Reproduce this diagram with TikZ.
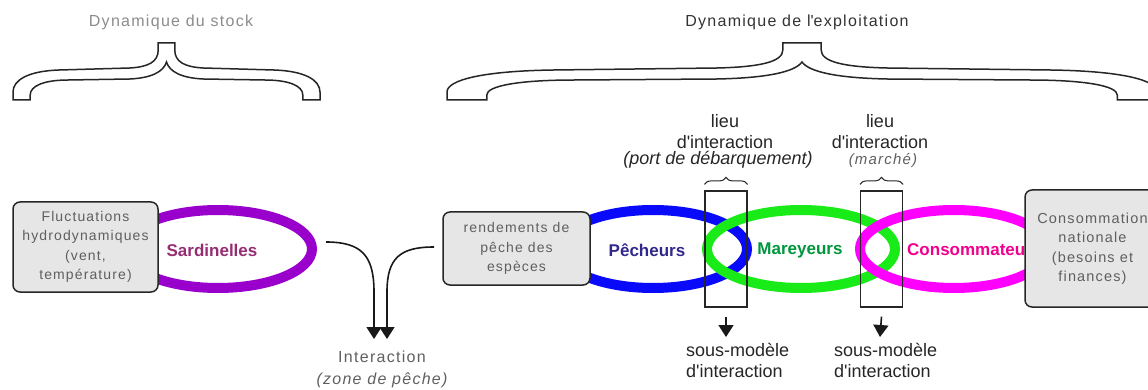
\documentclass[tikz,border=0pt]{standalone}
\usepackage{fontspec}
\setmainfont{Liberation Sans}
\newfontfamily\thinf[LetterSpace=8]{Liberation Sans}
\usetikzlibrary{shapes.geometric,arrows.meta,decorations.pathreplacing}
\definecolor{purp}{RGB}{153,0,204}
\definecolor{sardc}{RGB}{150,45,115}
\definecolor{bluec}{RGB}{10,10,250}
\definecolor{pechc}{RGB}{50,40,140}
\definecolor{greenc}{RGB}{25,235,25}
\definecolor{marc}{RGB}{0,150,60}
\definecolor{magc}{RGB}{255,0,255}
\definecolor{consc}{RGB}{240,0,140}
\definecolor{boxfill}{RGB}{230,230,230}
\definecolor{thintext}{RGB}{95,95,95}
\newcommand{\apo}{\textquotesingle}
\begin{document}
\begin{tikzpicture}[x=1pt,y=-1pt,
  ell/.style={ellipse, minimum width=188pt, minimum height=78pt, line width=10pt, inner sep=0pt},
  bold17/.style={font=\fontsize{17}{20}\selectfont\bfseries, inner sep=0pt},
  gbox/.style={draw=black!85, line width=1.5pt, fill=boxfill, rounded corners=7pt, align=center,
    text=thintext, inner sep=0pt, font=\thinf\fontsize{14}{19.5}\selectfont},
  irect/.style={draw=black!85, line width=1.2pt, minimum width=42pt, minimum height=116pt, inner sep=0pt},
  arr/.style={-{Triangle[width=15pt,length=12pt]}, line width=1.6pt, black!90},
  dk/.style={font=\fontsize{18}{21}\selectfont, text=black!85, align=center, inner sep=0pt},
  thinlbl/.style={font=\thinf\fontsize{16}{22}\selectfont, text=thintext, align=center, inner sep=0pt},
  smallbrace/.style={decorate, decoration={brace, amplitude=7pt}, line width=1pt, black!85},
  bigbrace/.style={draw=black!85, line width=1.5pt, fill=white}
]
\useasboundingbox (0,0) rectangle (1148,390);
\clip (0,0) rectangle (1148,390);

% top braces
\node[thinlbl, text=black!45] (tstock) at (171,22) {Dynamique du stock};
\node[thinlbl, text=black!80] (texpl) at (797,22) {Dynamique de l\apo exploitation};
\begin{scope}[shift={(13,0)}, xscale=307]
\path[bigbrace] (0.473,43) -- (0.473,50) .. controls (0.473,62) and (0.44,67) .. (0.38,68) -- (0.15,70)
 .. controls (0.05,71) and (0,80) .. (0,92) -- (0,100) -- (0.056,100) -- (0.056,95)
 .. controls (0.056,86) and (0.1,80) .. (0.18,80) -- (0.38,79)
 .. controls (0.45,78) and (0.49,72) .. (0.5,62)
 .. controls (0.51,72) and (0.55,78) .. (0.62,79) -- (0.82,80)
 .. controls (0.9,80) and (0.944,86) .. (0.944,95) -- (0.944,100) -- (1,100) -- (1,92)
 .. controls (1,80) and (0.95,71) .. (0.85,70) -- (0.62,68)
 .. controls (0.56,67) and (0.527,62) .. (0.527,50) -- (0.527,43) -- cycle;
\end{scope}
\begin{scope}[shift={(447,0)}, xscale=710]
\path[bigbrace] (0.473,43) -- (0.473,50) .. controls (0.473,62) and (0.44,67) .. (0.38,68) -- (0.15,70)
 .. controls (0.05,71) and (0,80) .. (0,92) -- (0,100) -- (0.056,100) -- (0.056,95)
 .. controls (0.056,86) and (0.1,80) .. (0.18,80) -- (0.38,79)
 .. controls (0.45,78) and (0.49,72) .. (0.5,62)
 .. controls (0.51,72) and (0.55,78) .. (0.62,79) -- (0.82,80)
 .. controls (0.9,80) and (0.944,86) .. (0.944,95) -- (0.944,100) -- (1,100) -- (1,92)
 .. controls (1,80) and (0.95,71) .. (0.85,70) -- (0.62,68)
 .. controls (0.56,67) and (0.527,62) .. (0.527,50) -- (0.527,43) -- cycle;
\end{scope}

% ellipses
\node[ell, draw=purp] (sard) at (218,249) {};
\node[ell, draw=bluec] (pech) at (653,249) {};
\node[ell, draw=greenc] (mar) at (801,249) {};
\node[ell, draw=magc] (cons) at (954,249) {};

% ellipse labels
\node[bold17, text=sardc] (sardt) at (212,250) {Sardinelles};
\node[bold17, text=pechc] (pecht) at (647,250) {Pêcheurs};
\node[bold17, text=marc] (mart) at (800,250) {Mareyeurs};
\node[bold17, text=consc, anchor=west] (const) at (907,250) {Consommateurs};

% boxes
\node[gbox, minimum width=145pt, minimum height=90pt] (fluct) at (85.5,247) {Fluctuations\\hydrodynamiques\\(vent,\\température)};
\node[gbox, minimum width=147pt, minimum height=73pt] (rend) at (516.5,248.5) {rendements de\\pêche des\\espèces};
\node[gbox, minimum width=135pt, minimum height=117pt, font=\thinf\fontsize{14.5}{19.5}\selectfont] (consn) at (1092.5,248.5) {Consommation\\nationale\\(besoins et\\finances)};

% interaction rectangles
\node[irect] (r1) at (726,249) {};
\node[irect] (r2) at (881.5,249) {};
\draw[smallbrace] ([yshift=6pt]r1.north west) -- ([yshift=6pt]r1.north east);
\draw[smallbrace] ([yshift=6pt]r2.north west) -- ([yshift=6pt]r2.north east);

% labels above rectangles
\node[dk] (lieu1) at (725,131.5) {lieu\\d\apo interaction};
\node[dk, font=\fontsize{18}{21}\selectfont\itshape] (port) at (718,160) {(port de débarquement)};
\node[dk] (lieu2) at (880,131.5) {lieu\\d\apo interaction};
\node[thinlbl, font=\thinf\fontsize{15}{18}\selectfont\itshape] (marche) at (883,161) {(marché)};

% arrows below rectangles
\coordinate (s1) at (726,337);
\coordinate (s2) at (880,337);
\draw[arr] ([yshift=-9pt]r1.south) -- (s1);
\draw[arr] ([yshift=-9pt]r2.south) -- (s2);
\node[dk, align=left, anchor=west] (sm1) at (686,360.5) {sous-modèle\\d\apo interaction};
\node[dk, align=left, anchor=west] (sm2) at (834,360.5) {sous-modèle\\d\apo interaction};

% interaction zone de peche
\coordinate (c1) at (326,242);
\coordinate (c2) at (434,247);
\coordinate (e1) at (374,339);
\coordinate (e2) at (387,339);
\draw[arr] (c1) .. controls (362,242) and (374,256) .. (374,292) -- (e1);
\draw[arr] (c2) .. controls (400,247) and (387,258) .. (387,292) -- (e2);
\node[thinlbl] (inter) at (382,369) {Interaction\\{\itshape (zone de pêche)}};
\end{tikzpicture}
\end{document}
